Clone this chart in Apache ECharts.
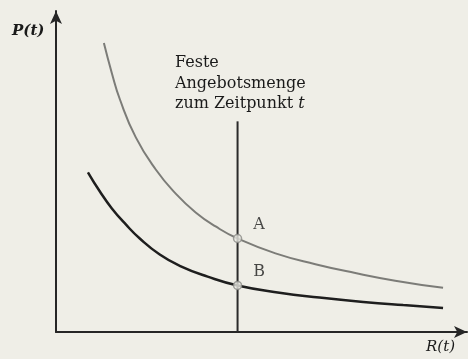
<!DOCTYPE html>
<html>
<head>
<meta charset="utf-8">
<script src="https://cdn.jsdelivr.net/npm/echarts@6/dist/echarts.min.js"></script>
<style>
  html, body { margin: 0; padding: 0; background: #efeee7; }
  #chart { width: 468px; height: 359px; }
</style>
</head>
<body>
<div id="chart"></div>
<script>
// Price curves P(t) over quantity R(t); upper curve grey, lower curve black
const upperCurve = [[1.2,7.2],[1.4,6.45],[1.6,5.8],[2.0,4.85],[2.5,4.05],[3.0,3.45],[3.5,2.98],[4.0,2.63],[4.55,2.33],[5.5,1.96],[6.5,1.69],[7.5,1.47],[8.5,1.28],[9.7,1.1]];
const lowerCurve = [[0.8,3.98],[1.1,3.5],[1.4,3.08],[1.75,2.68],[2.1,2.33],[2.6,1.93],[3.1,1.65],[3.8,1.38],[4.55,1.16],[5.6,0.98],[6.6,0.86],[7.7,0.75],[8.7,0.67],[9.7,0.6]];
// Fixed supply quantity at time t
const supplyLine = [[4.55,0],[4.55,5.25]];
// Intersection points
const pointNames = ['A', 'B'];
const pointValues = [[4.55,2.33],[4.55,1.16]];

const serif = 'DejaVu Serif';
const chart = echarts.init(document.getElementById('chart'), null, { renderer: 'canvas' });

chart.setOption({
  backgroundColor: '#efeee7',
  animation: false,
  grid: { left: 56, top: 11, width: 411, height: 321 },
  xAxis: {
    type: 'value', min: 0, max: 10.3,
    axisLine: { show: true, symbol: ['none', 'arrow'], symbolSize: [9, 13], lineStyle: { color: '#262626', width: 2 } },
    axisTick: { show: false }, axisLabel: { show: false }, splitLine: { show: false }
  },
  yAxis: {
    type: 'value', min: 0, max: 8,
    axisLine: { show: true, symbol: ['none', 'arrow'], symbolSize: [9, 13], lineStyle: { color: '#262626', width: 2 } },
    axisTick: { show: false }, axisLabel: { show: false }, splitLine: { show: false }
  },
  series: [
    {
      type: 'line', data: upperCurve, smooth: 0.5, showSymbol: false,
      lineStyle: { color: '#7c7c78', width: 2 }, z: 2
    },
    {
      type: 'line', data: lowerCurve, smooth: 0.5, showSymbol: false,
      lineStyle: { color: '#1e1e1e', width: 2.5 }, z: 2
    },
    {
      type: 'line', data: supplyLine, showSymbol: false,
      lineStyle: { color: '#2a2a2a', width: 2 }, z: 3
    },
    {
      type: 'scatter', z: 5,
      data: pointValues.map((v, i) => ({ value: v, name: pointNames[i] })),
      symbol: 'circle', symbolSize: 8,
      itemStyle: { color: '#e9e8e2', borderColor: '#8a8a86', borderWidth: 1.5 },
      label: {
        show: true, formatter: '{b}', position: 'right', offset: [6, -14],
        fontFamily: serif, fontSize: 16, color: '#1a1a1a'
      }
    }
  ],
  graphic: [
    {
      type: 'text', left: 12, top: 24,
      style: { text: 'P(t)', font: 'italic bold 15px "DejaVu Serif"', fill: '#1a1a1a' }
    },
    {
      type: 'text', left: 426, top: 340,
      style: { text: 'R(t)', font: 'italic 15px "DejaVu Serif"', fill: '#1a1a1a' }
    },
    {
      type: 'text', left: 175, top: 53,
      style: {
        text: 'Feste\nAngebotsmenge\n{i|zum Zeitpunkt }{t|t}',
        font: '16px "DejaVu Serif"', fill: '#1a1a1a', lineHeight: 20.5,
        rich: {
          i: { fontFamily: serif, fontSize: 16, fill: '#1a1a1a', lineHeight: 20.5 },
          t: { fontFamily: serif, fontStyle: 'italic', fontSize: 16, fill: '#1a1a1a', lineHeight: 20.5 }
        }
      }
    }
  ]
});
</script>
</body>
</html>
